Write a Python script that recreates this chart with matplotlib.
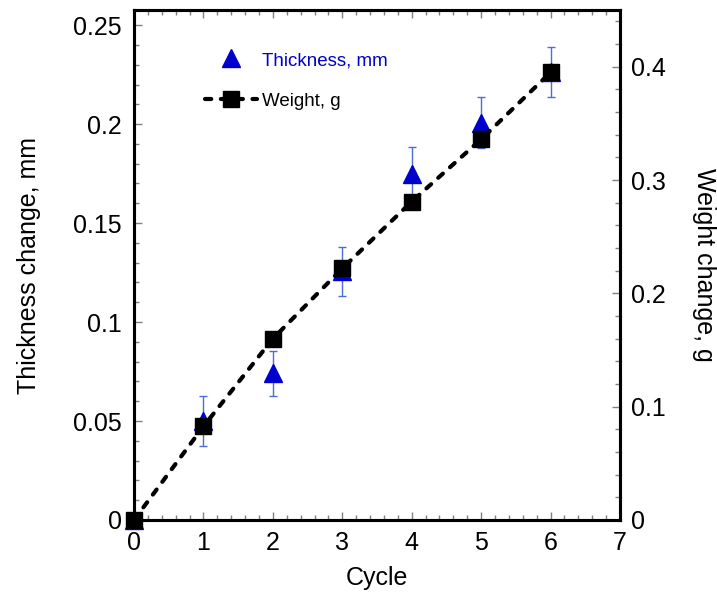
import numpy as np
import matplotlib
matplotlib.use('Agg')
import matplotlib.pyplot as plt
from matplotlib.lines import Line2D
from matplotlib.ticker import MultipleLocator

# data
cycle = [0, 1, 2, 3, 4, 5, 6]
thickness = [0.0, 0.050, 0.0741, 0.1257, 0.175, 0.2007, 0.2264]
thickness_err = [0.0, 0.0124, 0.0115, 0.0124, 0.0135, 0.013, 0.0126]
weight = [0.0, 0.0826, 0.160, 0.222, 0.281, 0.336, 0.395]

plt.rcParams['font.family'] = ['Liberation Sans', 'DejaVu Sans']
plt.rcParams['font.size'] = 18

fig = plt.figure(figsize=(7.17, 5.94), dpi=100)
ax = fig.add_axes([0.1869, 0.1246, 0.6778, 0.8584])
ax2 = ax.twinx()

blue = '#0000cc'
ax.errorbar(cycle, thickness, yerr=thickness_err, fmt='none', ecolor='#4a6fd0',
            elinewidth=1, capsize=3, capthick=1, zorder=3)
ax.plot(cycle, thickness, linestyle='none', marker='^', markersize=13,
        color=blue, clip_on=False, zorder=4)

ax2.plot(cycle, weight, color='black', linewidth=3.0, linestyle=(0, (1.5, 2.3)),
         dash_capstyle='round', marker='s', markersize=11.5, clip_on=False)

ax.set_xlim(0, 7)
ax.set_ylim(0, 0.2576)
ax2.set_ylim(0, 0.45)

ax.xaxis.set_major_locator(MultipleLocator(1))
ax.xaxis.set_minor_locator(MultipleLocator(0.2))
ax.yaxis.set_major_locator(MultipleLocator(0.05))
ax.yaxis.set_minor_locator(MultipleLocator(0.01))
ax2.yaxis.set_major_locator(MultipleLocator(0.1))
ax2.yaxis.set_minor_locator(MultipleLocator(0.02))

ax.set_yticks([0, 0.05, 0.1, 0.15, 0.2, 0.25])
ax.set_yticklabels(['0', '0.05', '0.1', '0.15', '0.2', '0.25'])
ax2.set_yticks([0, 0.1, 0.2, 0.3, 0.4])
ax2.set_yticklabels(['0', '0.1', '0.2', '0.3', '0.4'])

ax.tick_params(axis='x', which='both', direction='in', top=True, bottom=True)
ax.tick_params(axis='y', which='both', direction='in', left=True, right=False)
ax.tick_params(which='major', length=6, width=1, labelsize=18, color='#808080')
ax.tick_params(which='minor', length=3.5, width=1, color='#808080')
ax2.tick_params(axis='y', which='both', direction='in')
ax2.tick_params(which='major', length=6, width=1, labelsize=18, color='#808080',
                pad=8)
ax2.tick_params(which='minor', length=3.5, width=1, color='#808080')
ax.tick_params(axis='x', pad=8)
ax.tick_params(axis='y', pad=9)

for a in (ax, ax2):
    for s in a.spines.values():
        s.set_linewidth(2.2)

ax.set_xlabel('Cycle', fontsize=18, labelpad=8)
ax.set_ylabel('Thickness change, mm', fontsize=18, labelpad=23)
ax2.set_ylabel('Weight change, g', fontsize=18, rotation=270, labelpad=36)

handles = [Line2D([], [], linestyle='none', marker='^', markersize=13, color=blue),
           Line2D([], [], color='black', linewidth=3.0, linestyle=(0, (1.5, 2.3)),
                  dash_capstyle='round', marker='s', markersize=11.5)]
leg = ax.legend(handles, ['Thickness, mm', 'Weight, g'], loc='upper left',
                bbox_to_anchor=(0.146, 0.918), frameon=False, fontsize=13.5,
                borderpad=0, borderaxespad=0,
                handlelength=2.8, handletextpad=0.25, labelspacing=1.25)
leg.get_texts()[0].set_color(blue)

fig.savefig('out.png', dpi=100)
